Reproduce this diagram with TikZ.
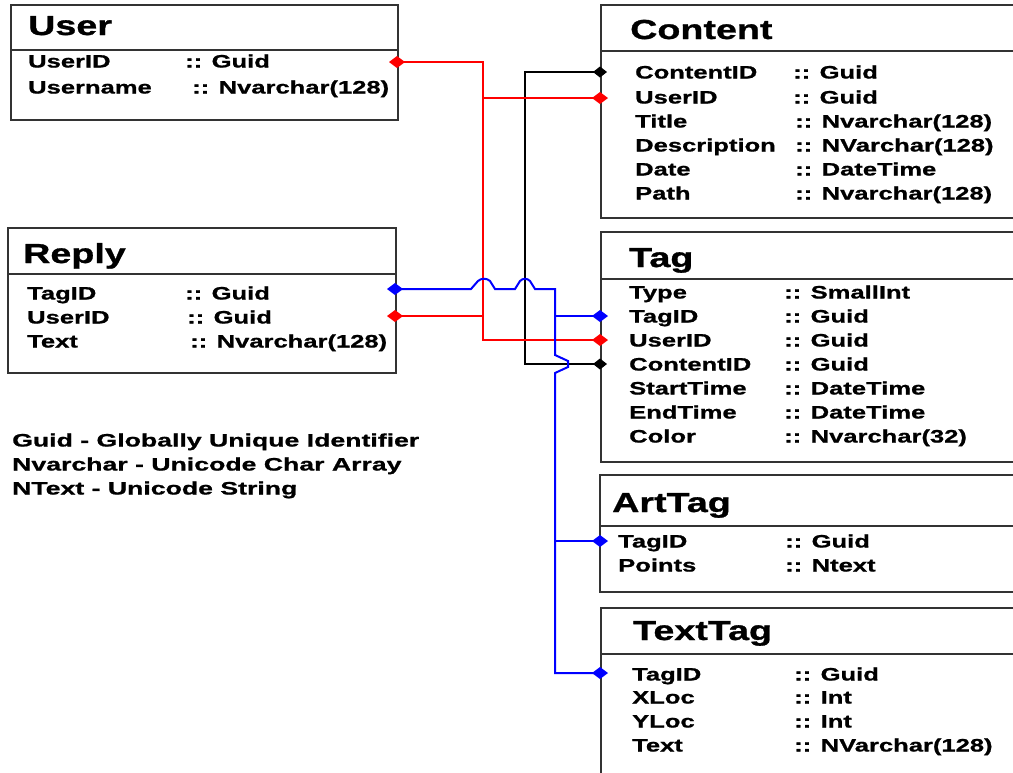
\documentclass[tikz,border=0pt]{standalone}
\usepackage{fontspec}
\setmainfont{Liberation Sans}
\newfontfamily\rowfont[FakeStretch=1.42,FakeBold=1]{Liberation Sans}
\newfontfamily\ttlfont[FakeStretch=1.37,FakeBold=1]{Liberation Sans}
\newfontfamily\legfont[FakeStretch=1.48,FakeBold=1]{Liberation Sans}
\tikzset{
  tbl/.style={draw=black!80, line width=2pt, rectangle, inner sep=0pt, anchor=north west},
  divline/.style={draw=black!80, line width=2pt},
  rowtxt/.style={inner sep=0pt, anchor=west, text height=13pt, text depth=0pt, font=\rowfont\bfseries\fontsize{18}{20}\selectfont},
  legtxt/.style={inner sep=0pt, anchor=west, text height=13pt, text depth=0pt, font=\legfont\bfseries\fontsize{18}{20}\selectfont},
  ttltxt/.style={inner sep=0pt, anchor=west, text height=20pt, text depth=0pt, font=\ttlfont\bfseries\fontsize{27.5}{30}\selectfont},
  conn/.style={line width=2pt},
  redc/.style={conn, draw=red},
  bluec/.style={conn, draw=blue},
  blkc/.style={conn, draw=black},
}
\newcommand\erow[6]{\node[rowtxt] (#1a) at (#2,#4) {#5}; \node[rowtxt] (#1b) at (#3,#4) {#6};}
\newcommand\dmd[4]{\fill[#1] (#2) +(-#3,0) -- +(0,-#4) -- +(#3,0) -- +(0,#4) -- cycle;}
\begin{document}
\begin{tikzpicture}[x=1pt,y=-1pt]
\clip (0,0) rectangle (1013,772);
\fill[white] (0,0) rectangle (1013,772);

% ---------- boxes ----------
\node[tbl, minimum width=387pt, minimum height=115pt] (user) at (10,4) {};
\draw[divline] (10,50) -- (397,50);
\node[ttltxt] (tuser) at (28,25) {User};
\erow{u1}{28}{185}{61}{UserID}{:: Guid}
\erow{u2}{28}{192}{87}{Username}{:: Nvarchar(128)}

\node[tbl, minimum width=388pt, minimum height=145pt] (reply) at (7,227) {};
\draw[divline] (7,274) -- (395,274);
\node[ttltxt] (treply) at (23,253) {Reply};
\erow{r1}{27}{185}{293}{TagID}{:: Guid}
\erow{r2}{27}{187}{317}{UserID}{:: Guid}
\erow{r3}{27}{190}{341}{Text}{:: Nvarchar(128)}

\node[tbl, minimum width=440pt, minimum height=213pt] (content) at (600,4) {};
\draw[divline] (600,51) -- (1040,51);
\node[ttltxt] (tcontent) at (630,29) {Content};
\erow{c1}{635}{793}{72}{ContentID}{:: Guid}
\erow{c2}{635}{793}{97}{UserID}{:: Guid}
\erow{c3}{635}{795}{121}{Title}{:: Nvarchar(128)}
\erow{c4}{635}{795}{145}{Description}{:: NVarchar(128)}
\erow{c5}{635}{795}{169}{Date}{:: DateTime}
\erow{c6}{635}{795}{193}{Path}{:: Nvarchar(128)}

\node[tbl, minimum width=440pt, minimum height=230pt] (tag) at (600,231) {};
\draw[divline] (600,279) -- (1040,279);
\node[ttltxt] (ttag) at (629,257) {Tag};
\erow{g1}{629}{784}{292}{Type}{:: SmallInt}
\erow{g2}{629}{784}{316}{TagID}{:: Guid}
\erow{g3}{629}{784}{340}{UserID}{:: Guid}
\erow{g4}{629}{784}{364}{ContentID}{:: Guid}
\erow{g5}{629}{784}{388}{StartTime}{:: DateTime}
\erow{g6}{629}{784}{412}{EndTime}{:: DateTime}
\erow{g7}{629}{784}{436}{Color}{:: Nvarchar(32)}

\node[tbl, minimum width=440pt, minimum height=117pt] (arttag) at (599,474) {};
\draw[divline] (599,526) -- (1040,526);
\node[ttltxt] (tarttag) at (612,502) {ArtTag};
\erow{a1}{618}{785}{541}{TagID}{:: Guid}
\erow{a2}{618}{785}{565}{Points}{:: Ntext}

\node[tbl, minimum width=440pt, minimum height=200pt] (texttag) at (600,607) {};
\draw[divline] (600,654) -- (1040,654);
\node[ttltxt] (ttexttag) at (633,630) {TextTag};
\erow{x1}{632}{794}{674}{TagID}{:: Guid}
\erow{x2}{632}{794}{697}{XLoc}{:: Int}
\erow{x3}{632}{794}{721}{YLoc}{:: Int}
\erow{x4}{632}{794}{745}{Text}{:: NVarchar(128)}

% ---------- legend ----------
\node[legtxt] (lg1) at (12,440) {Guid - Globally Unique Identifier};
\node[legtxt] (lg2) at (12,464) {Nvarchar - Unicode Char Array};
\node[legtxt] (lg3) at (12,488) {NText - Unicode String};

% ---------- ports ----------
\coordinate (pUser) at (397,62);
\coordinate (pReplyTag) at (395,289);
\coordinate (pReplyUser) at (395,316);
\coordinate (pConCID) at (600,72);
\coordinate (pConUser) at (600,98);
\coordinate (pTagTag) at (600,316);
\coordinate (pTagUser) at (600,340);
\coordinate (pTagCID) at (600,364);
\coordinate (pArt) at (600,541);
\coordinate (pText) at (600,673);
\coordinate (rv) at (483,200);
\coordinate (bv) at (525,200);
\coordinate (blv) at (555,500);

% ---------- connectors ----------
\draw[blkc] (pConCID) -| (bv) |- (pTagCID);
\draw[redc] (pUser) -| (rv) |- (pTagUser);
\draw[redc] (pConUser) -- (pConUser -| rv);
\draw[redc] (pReplyUser) -- (pReplyUser -| rv);
\draw[bluec] (pReplyTag) -- (471,289) -- (478,281) .. controls (481,278) and (487,278) .. (490,281) -- (495,289)
  -- (515,289) -- (520,281) .. controls (523,278) and (527,278) .. (530,281) -- (535,289)
  -- (555,289) -- (555,355) -- (568,361) -- (568,367) -- (555,373) -- (blv |- pText) -- (pText);
\draw[bluec] (pTagTag -| blv) -- (pTagTag);
\draw[bluec] (pArt -| blv) -- (pArt);

% ---------- diamonds ----------
\dmd{red}{pUser}{8}{6}
\dmd{blue}{pReplyTag}{8}{6}
\dmd{red}{pReplyUser}{8}{6}
\dmd{black}{pConCID}{7}{5.5}
\dmd{red}{pConUser}{8}{6}
\dmd{blue}{pTagTag}{8}{6}
\dmd{red}{pTagUser}{8}{6}
\dmd{black}{pTagCID}{7}{5.5}
\dmd{blue}{pArt}{8}{6}
\dmd{blue}{pText}{8}{6}
\end{tikzpicture}
\end{document}
